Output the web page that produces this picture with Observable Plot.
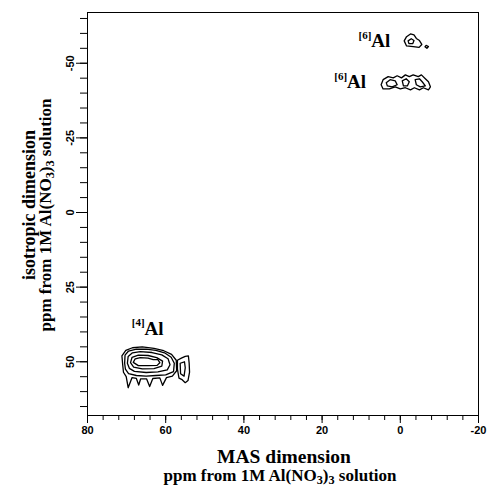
<!DOCTYPE html>
<html>
<head>
<meta charset="utf-8">
<script src="https://cdn.jsdelivr.net/npm/d3@7"></script>
<script src="https://cdn.jsdelivr.net/npm/@observablehq/plot@0.6"></script>
<style>
  html, body { margin: 0; padding: 0; background: #fff; }
</style>
</head>
<body>
<div id="chart"></div>
<script>
// ---- axis ticks ----
const xTicks = [80, 60, 40, 20, 0, -20];
const xMinorTicks = [80,76,72,68,64,60,56,52,48,44,40,36,32,28,24,20,16,12,8,4,0,-4,-8,-12,-16,-20];
const yTicks = [-50, -25, 0, 25, 50];
const yMinorTicks = [-65,-60,-55,-50,-45,-40,-35,-30,-25,-20,-15,-10,-5,0,5,10,15,20,25,30,35,40,45,50,55,60,65];

// ---- contour rings (MAS ppm, isotropic ppm) ----
// [4]Al peak
const al4Outer = [[71.0,51.0],[71.2,48.0],[70.2,46.2],[68.5,45.3],[66,45.0],[63,45.5],[60.5,46.3],[58.5,47.5],[57.3,49.5],[57.2,53.0],[58.3,54.8],[59.8,55.3],[60.8,57.9],[61.5,55.4],[63.3,55.6],[64.1,58.3],[64.9,55.7],[66.4,55.7],[66.9,57.8],[67.5,55.6],[68.6,55.3],[69.6,58.7],[70.1,55.0],[70.8,53.5]];
const al4Ring2 = [[70.5,50.5],[70.4,47.8],[69.5,46.4],[67.5,45.8],[65,45.8],[62.5,46.2],[60.3,47.0],[58.6,48.5],[57.8,50.5],[58.0,53.3],[60,54.4],[62.5,54.6],[65,54.8],[67.5,54.6],[69.5,54.0],[70.3,52.5]];
const al4Ring3 = [[69.8,50.5],[69.6,48.2],[68.5,47.0],[66.5,46.6],[63.5,46.9],[61,47.7],[59.4,49.0],[58.9,51.0],[59.6,52.7],[62,53.4],[65,53.6],[68,53.2],[69.3,52.2]];
const al4Ring4 = [[69.0,50.3],[68.6,48.5],[67,47.8],[64.5,47.9],[62.3,48.6],[60.8,49.8],[61.0,51.5],[63,52.3],[66,52.4],[68.2,51.8]];
const al4Ring5 = [[68.3,50.2],[67.8,49.0],[66.5,48.6],[64.5,48.8],[63.2,49.3],[62,49.3],[61.5,50.3],[62.2,51.2],[64.5,51.3],[67,51.3]];
const al4LobeOuter = [[57.0,49.5],[56.0,48.8],[55.0,48.2],[54.2,48.0],[54.0,50.5],[53.9,53.5],[54.3,56.3],[55.0,57.0],[55.8,56.0],[56.6,55.5],[57.0,52.5]];
const al4LobeInner = [[56.3,50.5],[55.2,50.0],[55.0,52.0],[55.3,54.8],[56.2,54.0]];
// upper [6]Al peak
const al6aOuter = [[-1.0,-57.5],[-1.6,-58.9],[-2.6,-59.8],[-3.5,-59.5],[-4.1,-58.3],[-4.9,-57.6],[-5.5,-56.3],[-4.8,-55.3],[-3.3,-55.6],[-1.6,-55.8]];
const al6aInner = [[-2.0,-57.5],[-2.8,-58.2],[-3.5,-57.6],[-3.2,-56.6],[-2.2,-56.6]];
const al6aDot = [[-6.6,-56.0],[-7.2,-55.6],[-6.8,-55.0],[-6.3,-55.5]];
// lower [6]Al peak
const al6bOuter = [[4.9,-42.8],[4.4,-44.5],[3.1,-45.5],[1.8,-45.1],[0.8,-45.8],[-0.3,-45.1],[-1.3,-46.1],[-2.3,-45.5],[-3.3,-46.1],[-4.6,-45.5],[-5.4,-46.1],[-6.4,-44.8],[-7.2,-43.8],[-7.7,-42.1],[-7.2,-41.1],[-5.9,-41.8],[-4.9,-41.1],[-3.6,-41.8],[-2.6,-41.1],[-1.3,-41.8],[0.0,-41.4],[1.3,-42.1],[2.8,-41.4],[4.4,-41.4]];
const al6bInnerLeft = [[3.6,-43.5],[2.6,-44.5],[1.3,-44.1],[0.8,-42.8],[2.1,-42.1],[3.3,-42.4]];
const al6bInnerMid = [[-0.5,-44.1],[-1.5,-44.8],[-2.3,-43.8],[-1.8,-42.4],[-0.8,-42.4]];
const al6bInnerRight = [[-3.8,-44.5],[-4.9,-44.8],[-5.6,-43.8],[-6.4,-42.4],[-5.1,-42.1],[-4.1,-42.8]];

// ---- peak labels ----
const labelName = ["Al", "Al", "Al"];
const labelCoord = ["[6]", "[6]", "[4]"];
const labelX = [7.4, 13.6, 65.4];
const labelY = [-57.4, -43.6, 38.9];

// build tables
const rings = {al4Outer, al4Ring2, al4Ring3, al4Ring4, al4Ring5, al4LobeOuter, al4LobeInner,
  al6aOuter, al6aInner, al6aDot, al6bOuter, al6bInnerLeft, al6bInnerMid, al6bInnerRight};
const contourRows = [];
for (const [id, pts] of Object.entries(rings)) {
  for (const [x, y] of pts) contourRows.push({ring: id, x, y});
}
const labels = labelName.map((n, i) => ({name: n, coord: labelCoord[i], x: labelX[i], y: labelY[i]}));

const serif = "'Liberation Serif', 'Times New Roman', serif";
const sans = "'Liberation Sans', Arial, sans-serif";

const svg = Plot.plot({
  width: 489,
  height: 488,
  marginLeft: 87,
  marginRight: 11,
  marginTop: 12,
  marginBottom: 73,
  style: {fontFamily: sans, fontSize: "11px", background: "#fff", color: "#000"},
  x: {domain: [80, -20], label: null},
  y: {domain: [68, -67], label: null},
  marks: [
    Plot.frame({stroke: "#000", strokeWidth: 1}),
    Plot.axisX({ticks: xMinorTicks, tickSize: 5, tickFormat: () => "", label: null}),
    Plot.axisX({ticks: xTicks, tickSize: 8, tickPadding: 3, tickFormat: d => String(d), label: null, fontWeight: "bold"}),
    Plot.axisY({ticks: yMinorTicks, tickSize: 7, tickFormat: () => "", label: null}),
    Plot.axisY({ticks: yTicks, tickSize: 11, tickPadding: 3, tickRotate: -90, tickFormat: d => String(d), label: null, fontWeight: "bold"}),
    Plot.line(contourRows, {x: "x", y: "y", z: "ring", curve: "linear-closed", stroke: "#000", strokeWidth: 1.3}),
    Plot.text(labels, {x: "x", y: "y", text: "name", textAnchor: "start", fontSize: 19, fontWeight: "bold", fontFamily: serif}),
    Plot.text(labels, {x: "x", y: "y", text: "coord", textAnchor: "end", dy: -6, fontSize: 11, fontWeight: "bold", fontFamily: serif})
  ]
});
document.getElementById("chart").appendChild(svg);

// axis titles with subscripts
const s = d3.select(svg);
function subTitle(g, fontSize) {
  const d = Math.round(fontSize * 0.18);
  g.append("tspan").text("ppm from 1M Al(NO");
  g.append("tspan").attr("font-size", fontSize * 0.72).attr("dy", d).text("3");
  g.append("tspan").attr("dy", -d).text(")");
  g.append("tspan").attr("font-size", fontSize * 0.72).attr("dy", d).text("3");
  g.append("tspan").attr("dy", -d).text(" solution");
}
s.append("text")
  .attr("x", 284).attr("y", 463)
  .attr("text-anchor", "middle")
  .attr("font-family", serif).attr("font-weight", "bold").attr("font-size", 19.5)
  .text("MAS dimension");
subTitle(s.append("text")
  .attr("x", 280).attr("y", 481)
  .attr("text-anchor", "middle")
  .attr("font-family", serif).attr("font-weight", "bold").attr("font-size", 17), 17);
s.append("text")
  .attr("transform", "translate(35,205) rotate(-90)")
  .attr("text-anchor", "middle")
  .attr("font-family", serif).attr("font-weight", "bold").attr("font-size", 18)
  .text("isotropic dimension");
subTitle(s.append("text")
  .attr("transform", "translate(51,215) rotate(-90)")
  .attr("text-anchor", "middle")
  .attr("font-family", serif).attr("font-weight", "bold").attr("font-size", 17), 17);
</script>
</body>
</html>
